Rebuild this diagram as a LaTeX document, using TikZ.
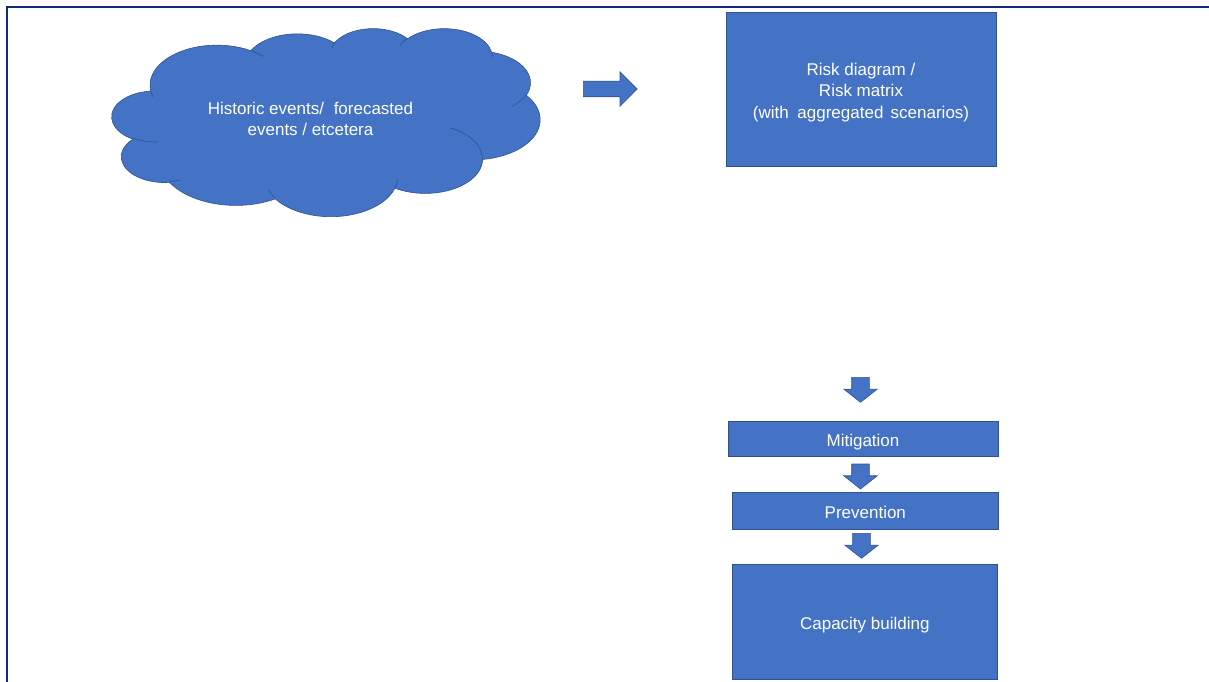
\documentclass[tikz,border=0pt]{standalone}
\usepackage{fontspec}
\setmainfont{Liberation Sans}
\usetikzlibrary{shapes.arrows}

\definecolor{shapefill}{HTML}{4472C4}
\definecolor{shapeline}{HTML}{2F528F}
\definecolor{framenavy}{RGB}{16,44,120}

% elliptical arc given by its radii and its geometric start angle and sweep
\newcommand\cloudarc[4]{arc[x radius=#1, y radius=#2, start angle={pa(#3,#1,#2)}, end angle={pa(#3+#4,#1,#2)}]}

\tikzset{
  blockbox/.style={rectangle, fill=shapefill, draw=shapeline, line width=0.6pt, inner sep=0pt},
  boxtext/.style={text=white, align=center, inner sep=0pt,
    font=\fontsize{17}{21.5}\selectfont},
  blockarrow/.style={single arrow, fill=shapefill, draw=shapeline, line width=0.6pt,
    inner xsep=0pt, anchor=tail},
  rightarrow/.style={blockarrow, inner ysep=7.5pt, single arrow head extend=9.5pt,
    single arrow tip angle=90, minimum height=54pt},
  downarrow/.style={blockarrow, rotate=-90, inner ysep=8.5pt, single arrow head extend=8pt,
    single arrow tip angle=103.5, minimum height=25pt},
  cloudbody/.style={fill=shapefill, draw=shapeline, line width=0.6pt},
  cloudcrease/.style={draw=shapeline, line width=0.6pt},
  cloudtext/.style={text=white, align=center, inner sep=0pt,
    font=\fontsize{17}{21}\selectfont},
}

\begin{document}
\begin{tikzpicture}[x=1pt, y=-1pt,
  declare function={pa(\t,\a,\b)=\t+mod(atan2(\a*sin(\t),\b*cos(\t))-\t+900,360)-180;}]
\useasboundingbox (0,0) rectangle (1209,682);

% frame
\draw[framenavy, line width=2pt] (1209,7.5) -- (7,7.5) -- (7,682);

% cloud
\begin{scope}[shift={(112,28)}, xscale=428/432, yscale=188/432]
  \path[cloudbody] (39.00,143.70)
    \cloudarc{67.53}{91.90}{-190.4875}{123.7805}
    \cloudarc{53.33}{72.67}{-144.1024}{89.9452}
    \cloudarc{43.65}{59.45}{-145.8079}{99.7230}
    \cloudarc{48.57}{65.95}{-130.9861}{117.2417}
    \cloudarc{53.33}{72.73}{-78.7089}{109.0269}
    \cloudarc{67.75}{92.20}{-46.2673}{130.2690}
    \cloudarc{57.85}{78.67}{0.6250}{114.0333}
    \cloudarc{67.52}{92.15}{22.4516}{115.1726}
    \cloudarc{77.20}{105.43}{66.2426}{75.7110}
    \cloudarc{43.60}{59.18}{-274.9421}{146.7356}
    \cloudarc{43.45}{59.45}{-246.8285}{152.5189}
    -- cycle;
  \path[cloudcrease]
    (46.93,261.77) \cloudarc{43.45}{59.45}{86.7420}{26.4295}
    (69.28,348.99) \cloudarc{43.60}{59.18}{73.6105}{11.4475}
    (164.78,390.90) \cloudarc{67.52}{92.15}{137.6242}{14.0811}
    (288.27,347.51) \cloudarc{67.52}{92.15}{6.4533}{15.9984}
    (341.29,229.54) \cloudarc{57.85}{78.67}{-70.2924}{70.9174}
    (417.98,153.54) \cloudarc{53.33}{72.73}{30.3180}{27.7515}
    (383.24,54.26) \cloudarc{48.57}{65.95}{-13.7443}{14.8589}
    (290.78,39.52) \cloudarc{48.57}{65.95}{-149.1815}{18.1954}
    (221.41,47.20) \cloudarc{43.65}{59.45}{-163.4943}{19.5042}
    (140.00,51.92) \cloudarc{67.53}{91.90}{-66.7070}{12.3194}
    (41.27,157.89) \cloudarc{67.53}{91.90}{157.6544}{11.8582};
\end{scope}
\node[cloudtext] (events) at (310.5,118.5)
  {Historic events/\hspace{5pt} forecasted\\events / etcetera};

% boxes
\node[blockbox, minimum width=270pt, minimum height=154pt] (risk) at (861,89) {};
\node[blockbox, minimum width=270pt, minimum height=35pt] (mitigation) at (863,439.2) {};
\node[blockbox, minimum width=266pt, minimum height=36.3pt] (prevention) at (865.3,510.8) {};
\node[blockbox, minimum width=265.7pt, minimum height=115pt] (capacity) at (864.8,621.5) {};

% box captions
\node[boxtext] (riskText) at ([yshift=-3.5pt]risk.center)
  {Risk diagram /\\Risk matrix\\(with\hspace{4pt} aggregated\hspace{2.5pt} scenarios)};
\node[boxtext] (mitigationText) at ([yshift=-2.5pt]mitigation.center) {Mitigation};
\node[boxtext] (preventionText) at ([yshift=-2pt]prevention.center) {Prevention};
\node[boxtext] (capacityText) at ([yshift=-3.5pt]capacity.center) {Capacity building};

% block arrows
\node[rightarrow] (toRisk) at (583,89) {};
\node[downarrow] (toMitigation) at (860.5,377) {};
\node[downarrow] (toPrevention) at (860.5,463.7) {};
\node[downarrow] (toCapacity) at (861.5,533) {};
\end{tikzpicture}
\end{document}
